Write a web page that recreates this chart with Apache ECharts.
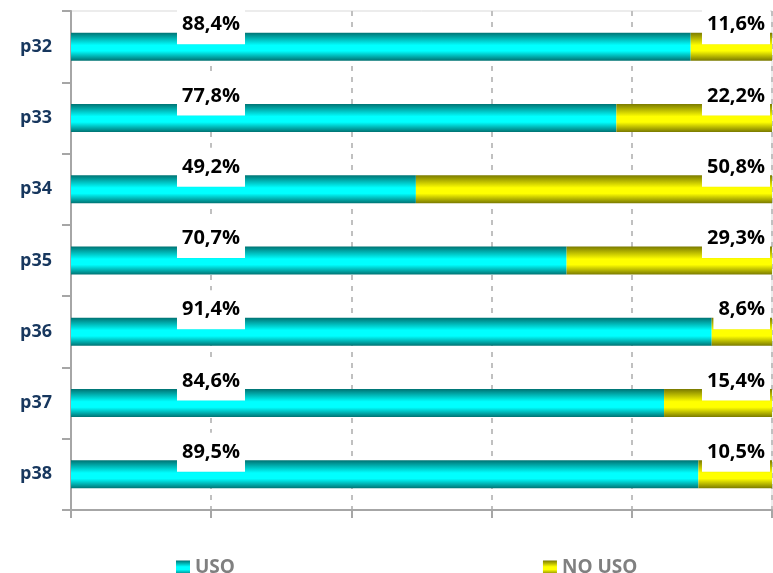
<!DOCTYPE html>
<html>
<head>
<meta charset="utf-8">
<script src="https://cdn.jsdelivr.net/npm/echarts@6/dist/echarts.min.js"></script>
<style>
  html, body { margin: 0; padding: 0; background: #fff; }
  #main { width: 773px; height: 573px; }
</style>
</head>
<body>
<div id="main"></div>
<script>
var categories = ['p32', 'p33', 'p34', 'p35', 'p36', 'p37', 'p38'];
var usoValues = [88.4, 77.8, 49.2, 70.7, 91.4, 84.6, 89.5];
var noUsoValues = [11.6, 22.2, 50.8, 29.3, 8.6, 15.4, 10.5];
var seriesNames = ['USO', 'NO USO'];

var myChart = echarts.init(document.getElementById('main'));

// degradado vertical tipo "cilindro" de Excel
function barGradient(edge, mid) {
    return new echarts.graphic.LinearGradient(0, 0, 0, 1, [
        {offset: 0, color: edge},
        {offset: 0.45, color: mid},
        {offset: 0.65, color: mid},
        {offset: 1, color: edge}
    ]);
}

function fmt(p) {
    return p.value.toFixed(1).replace('.', ',') + '%';
}

var labelBase = {
    show: true,
    formatter: fmt,
    color: '#000',
    fontFamily: 'Open Sans',
    fontWeight: 'bold',
    fontSize: 20,
    lineHeight: 20,
    backgroundColor: '#fff',
    padding: [12, 5, 7, 5],
    verticalAlign: 'middle'
};

var option = {
    animation: false,
    grid: {
        left: 71,
        right: 1,
        top: 11,
        bottom: 63,
        show: true,
        borderColor: '#d9d9d9',
        borderWidth: 1
    },
    legend: {
        data: seriesNames,
        left: 171,
        top: 553,
        itemGap: 308,
        itemWidth: 14,
        itemHeight: 14,
        icon: 'rect',
        textStyle: {
            color: '#808080',
            fontFamily: 'Open Sans',
            fontWeight: 'bold',
            fontSize: 19
        }
    },
    xAxis: {
        type: 'value',
        min: 0,
        max: 100,
        interval: 20,
        axisLabel: {show: false},
        axisLine: {show: true, lineStyle: {color: '#a6a6a6', width: 2}},
        axisTick: {show: true, length: 8, lineStyle: {color: '#a6a6a6', width: 2}},
        splitLine: {show: true, lineStyle: {color: '#c0c0c0', type: [5, 6], width: 2}}
    },
    yAxis: {
        type: 'category',
        inverse: true,
        data: categories,
        axisLine: {show: true, lineStyle: {color: '#a6a6a6', width: 2}},
        axisTick: {show: true, length: 9, lineStyle: {color: '#a6a6a6', width: 2}},
        axisLabel: {
            color: '#17375e',
            fontFamily: 'Open Sans',
            fontWeight: 'bold',
            fontSize: 18,
            margin: 19
        }
    },
    series: [
        {
            name: seriesNames[0],
            type: 'bar',
            stack: 'total',
            barWidth: 28,
            itemStyle: {color: barGradient('#007373', '#00ffff')},
            label: Object.assign({}, labelBase, {
                position: [140, -8],
                align: 'center'
            }),
            data: usoValues
        },
        {
            name: seriesNames[1],
            type: 'bar',
            stack: 'total',
            barWidth: 28,
            itemStyle: {color: barGradient('#7a7a00', '#ffff00')},
            label: Object.assign({}, labelBase, {
                position: ['100%', -8],
                align: 'right',
                offset: [-2, 0]
            }),
            data: noUsoValues
        }
    ]
};

myChart.setOption(option);
</script>
</body>
</html>
